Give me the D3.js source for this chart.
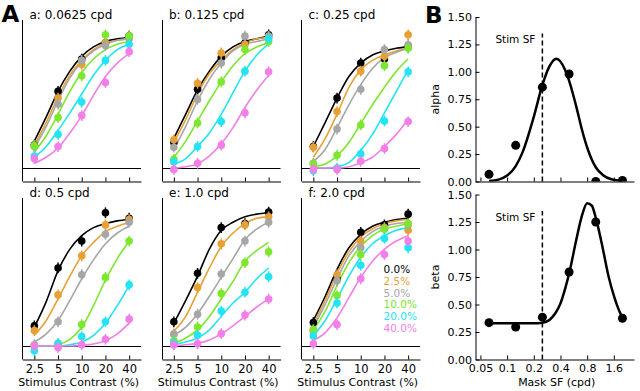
<!DOCTYPE html>
<html>
<head>
<meta charset="utf-8">
<script src="https://cdn.jsdelivr.net/npm/d3@7"></script>
<style>
  body { margin: 0; background: #fff; }
  svg { display: block; font-family: "DejaVu Sans", sans-serif; }
  .spine { stroke: #000; stroke-width: 1; fill: none; }
  .fit { fill: none; }
</style>
</head>
<body>
<svg id="chart" width="640" height="391"></svg>
<script>
// -----------------------------------------------------------------------------
// Data
// -----------------------------------------------------------------------------

var contrasts = [2.5, 5, 10, 20, 40];
var fitContrasts = [2.5, 3.54, 5, 7.07, 10, 14.1, 20, 28.3, 40];
var maskLabels = ["0.0%", "2.5%", "5.0%", "10.0%", "20.0%", "40.0%"];
var panelTitles = ["a: 0.0625 cpd", "b: 0.125 cpd", "c: 0.25 cpd",
                   "d: 0.5 cpd", "e: 1.0 cpd", "f: 2.0 cpd"];

// normalised response, one row per mask contrast (0 .. 40%)
var respSf0625 = [
  [0.17, 0.57, 0.81, 0.93, 0.98],
  [0.165, 0.52, 0.77, 0.93, 0.97],
  [0.16, 0.475, 0.80, 0.91, 0.96],
  [0.165, 0.375, 0.685, 0.99, 0.98],
  [0.09, 0.25, 0.49, 0.80, 0.92],
  [0.07, 0.16, 0.39, 0.635, 0.865]
];
var fitSf0625 = [
  [0.20, 0.38, 0.57, 0.72, 0.83, 0.90, 0.94, 0.96, 0.97],
  [0.17, 0.34, 0.53, 0.69, 0.80, 0.88, 0.93, 0.95, 0.96],
  [0.15, 0.31, 0.50, 0.67, 0.79, 0.87, 0.92, 0.95, 0.96],
  [0.12, 0.24, 0.40, 0.57, 0.71, 0.81, 0.88, 0.92, 0.94],
  [0.08, 0.16, 0.28, 0.41, 0.55, 0.69, 0.80, 0.88, 0.92],
  [0.035, 0.08, 0.15, 0.26, 0.39, 0.54, 0.68, 0.78, 0.85]
];

var respSf125 = [
  [0.19, 0.585, 0.82, 0.93, 0.99],
  [0.21, 0.63, 0.855, 0.92, 0.97],
  [0.155, 0.51, 0.78, 0.98, 0.98],
  [0.065, 0.335, 0.64, 0.88, 0.94],
  [0.045, 0.16, 0.345, 0.72, 0.96],
  [-0.01, 0.035, 0.17, 0.41, 0.715]
];
var fitSf125 = [
  [0.22, 0.40, 0.58, 0.72, 0.83, 0.90, 0.94, 0.96, 0.98],
  [0.19, 0.36, 0.55, 0.70, 0.80, 0.88, 0.93, 0.96, 0.97],
  [0.14, 0.31, 0.50, 0.66, 0.78, 0.87, 0.92, 0.94, 0.96],
  [0.08, 0.20, 0.35, 0.50, 0.64, 0.76, 0.85, 0.90, 0.93],
  [0.03, 0.07, 0.16, 0.26, 0.40, 0.56, 0.72, 0.84, 0.92],
  [0.0, 0.01, 0.03, 0.09, 0.18, 0.30, 0.45, 0.58, 0.69]
];

var respSf25 = [
  [0.16, 0.52, 0.78, 0.81, 0.90],
  [0.155, 0.42, 0.72, 0.83, 0.99],
  [0.035, 0.29, 0.585, 0.88, 0.915],
  [0.03, 0.095, 0.32, 0.76, 0.89],
  [-0.02, 0.0, 0.105, 0.35, 0.715],
  [-0.01, -0.01, 0.05, 0.145, 0.345]
];
var fitSf25 = [
  [0.16, 0.34, 0.52, 0.68, 0.78, 0.84, 0.87, 0.89, 0.90],
  [0.08, 0.22, 0.40, 0.60, 0.73, 0.80, 0.84, 0.87, 0.89],
  [0.05, 0.14, 0.30, 0.47, 0.62, 0.74, 0.82, 0.86, 0.89],
  [0.01, 0.03, 0.09, 0.19, 0.33, 0.47, 0.60, 0.72, 0.81],
  [0.0, 0.0, 0.01, 0.04, 0.13, 0.25, 0.41, 0.57, 0.73],
  [0.0, 0.0, 0.0, 0.01, 0.04, 0.08, 0.16, 0.25, 0.36]
];

var respSf05 = [
  [0.15, 0.58, 0.78, 0.99, 0.95],
  [0.115, 0.38, 0.67, 0.90, 0.94],
  [0.01, 0.18, 0.53, 0.83, 0.92],
  [0.0, 0.015, 0.16, 0.51, 0.78],
  [-0.035, 0.02, 0.07, 0.18, 0.455],
  [0.0, -0.01, 0.01, 0.05, 0.20]
];
var fitSf05 = [
  [0.14, 0.33, 0.56, 0.72, 0.82, 0.88, 0.91, 0.93, 0.94],
  [0.08, 0.19, 0.35, 0.52, 0.67, 0.77, 0.85, 0.89, 0.92],
  [0.03, 0.09, 0.19, 0.34, 0.50, 0.64, 0.76, 0.84, 0.89],
  [0.0, 0.0, 0.01, 0.05, 0.14, 0.30, 0.49, 0.65, 0.78],
  [0.0, 0.0, 0.0, 0.01, 0.03, 0.08, 0.17, 0.30, 0.45],
  [0.0, 0.0, 0.0, 0.0, 0.005, 0.015, 0.04, 0.09, 0.17]
];

var respSf1 = [
  [0.18, 0.54, 0.88, 0.91, 0.995],
  [0.09, 0.435, 0.76, 0.90, 0.96],
  [0.087, 0.236, 0.535, 0.78, 0.92],
  [0.04, 0.142, 0.39, 0.62, 0.70],
  [0.025, 0.08, 0.26, 0.40, 0.515],
  [0.008, 0.017, 0.092, 0.23, 0.35]
];
var fitSf1 = [
  [0.17, 0.34, 0.52, 0.72, 0.86, 0.92, 0.96, 0.98, 0.99],
  [0.11, 0.22, 0.40, 0.58, 0.74, 0.84, 0.91, 0.95, 0.96],
  [0.08, 0.14, 0.24, 0.37, 0.51, 0.65, 0.79, 0.87, 0.92],
  [0.02, 0.06, 0.12, 0.22, 0.35, 0.48, 0.63, 0.71, 0.77],
  [0.01, 0.03, 0.06, 0.12, 0.22, 0.32, 0.40, 0.50, 0.58],
  [0.0, 0.01, 0.02, 0.045, 0.09, 0.15, 0.22, 0.29, 0.35]
];

var respSf2 = [
  [0.175, 0.50, 0.845, 0.90, 0.98],
  [0.12, 0.53, 0.78, 0.88, 0.86],
  [0.11, 0.485, 0.73, 0.87, 0.90],
  [0.12, 0.375, 0.68, 0.87, 0.91],
  [0.075, 0.32, 0.60, 0.80, 0.73],
  [0.017, 0.16, 0.50, 0.68, 0.78]
];
var fitSf2 = [
  [0.19, 0.37, 0.57, 0.73, 0.83, 0.89, 0.92, 0.94, 0.95],
  [0.16, 0.34, 0.54, 0.70, 0.81, 0.87, 0.91, 0.93, 0.94],
  [0.14, 0.31, 0.50, 0.67, 0.78, 0.85, 0.89, 0.91, 0.92],
  [0.12, 0.26, 0.45, 0.62, 0.74, 0.82, 0.87, 0.89, 0.91],
  [0.08, 0.19, 0.35, 0.52, 0.66, 0.76, 0.82, 0.86, 0.88],
  [0.04, 0.10, 0.21, 0.36, 0.51, 0.63, 0.72, 0.78, 0.82]
];

var panelResp = [respSf0625, respSf125, respSf25, respSf05, respSf1, respSf2];
var panelFit = [fitSf0625, fitSf125, fitSf25, fitSf05, fitSf1, fitSf2];
var semResp = 0.04;

// panel B: fit parameters against mask spatial frequency
var stimSF = 0.25;
var maskSF = [0.0625, 0.125, 0.25, 0.5, 1.0, 2.0];
var alphaVals = [0.065, 0.33, 0.86, 0.98, 0.0, 0.01];
var betaVals = [0.335, 0.295, 0.385, 0.795, 1.25, 0.375];
var alphaFitSF = [0.0625, 0.08, 0.1, 0.125, 0.15, 0.2, 0.25, 0.3, 0.36, 0.45, 0.5, 0.6, 0.7, 0.8, 1.0, 1.2, 1.5, 2.0];
var alphaFit = [0.004, 0.017, 0.054, 0.14, 0.27, 0.59, 0.88, 1.05, 1.12, 1.02, 0.92, 0.69, 0.47, 0.31, 0.13, 0.06, 0.02, 0.005];
var betaFitSF = [0.0625, 0.1, 0.15, 0.2, 0.25, 0.3, 0.35, 0.4, 0.45, 0.5, 0.6, 0.7, 0.8, 0.9, 1.0, 1.2, 1.4, 1.6, 1.8, 2.0];
var betaFit = [0.33, 0.33, 0.33, 0.33, 0.335, 0.36, 0.42, 0.51, 0.64, 0.78, 1.08, 1.31, 1.42, 1.40, 1.29, 1.01, 0.75, 0.58, 0.46, 0.38];
var sfTicks = [0.05, 0.1, 0.2, 0.4, 0.8, 1.6];
var paramTicks = [0, 0.25, 0.5, 0.75, 1.0, 1.25, 1.5];

var maskColors = ["#000000", "#e8a035", "#a6a6a6", "#7de62e", "#22e4f2", "#f27fe8"];

// -----------------------------------------------------------------------------
// Helpers
// -----------------------------------------------------------------------------

var svg = d3.select("#chart");

function crisp(v) {
  return Math.round(v - 0.5) + 0.5;
}

function styleAxis(g, size) {
  g.select(".domain").attr("stroke", "#000").attr("stroke-width", 1);
  g.selectAll(".tick line").attr("stroke", "#000").attr("stroke-width", 1);
  g.selectAll(".tick text")
      .attr("fill", "#000")
      .style("font-family", "'DejaVu Sans', sans-serif")
      .style("font-size", size + "px");
}

function drawContrastPanel(k) {
  var col = k % 3;
  var row = Math.floor(k / 3);
  var left = 22.5 + col * 139.5;
  var right = left + 118.5;
  var top = row === 0 ? 20 : 198;
  var bottom = top + 161.5;

  var xScale = d3.scaleLog()
      .domain([2.5 / Math.SQRT2, 40 * Math.SQRT2])
      .range([left, right]);

  var yScale = d3.scaleLinear()
      .domain([-0.1, 1.1])
      .range([bottom, top]);

  var xAxis = d3.axisBottom(xScale)
      .tickValues(contrasts)
      .tickSizeInner(-4)
      .tickSizeOuter(0)
      .tickPadding(5)
      .tickFormat(row === 1 ? d3.format("") : function() { return ""; });

  svg.append("g")
      .attr("transform", "translate(0," + bottom + ")")
      .call(xAxis)
      .call(styleAxis, 11.5);

  svg.append("line")
      .attr("class", "spine")
      .attr("x1", crisp(left)).attr("x2", crisp(left))
      .attr("y1", top).attr("y2", bottom);

  svg.append("line")
      .attr("class", "spine")
      .attr("x1", left).attr("x2", right)
      .attr("y1", crisp(yScale(0))).attr("y2", crisp(yScale(0)));

  var line = d3.line()
      .x(function(d, i) { return xScale(fitContrasts[i]); })
      .y(function(d) { return yScale(d); })
      .curve(d3.curveMonotoneX);

  var resp = panelResp[k];
  var fit = panelFit[k];

  fit.forEach(function(vals, m) {
    svg.append("path")
        .datum(vals)
        .attr("class", "fit")
        .attr("stroke", maskColors[m])
        .attr("stroke-width", 1.6)
        .attr("d", line);
  });

  resp.forEach(function(vals, m) {
    var g = svg.append("g");
    g.selectAll("line")
        .data(vals)
      .enter().append("line")
        .attr("x1", function(d, i) { return xScale(contrasts[i]); })
        .attr("x2", function(d, i) { return xScale(contrasts[i]); })
        .attr("y1", function(d) { return yScale(d - semResp); })
        .attr("y2", function(d) { return yScale(d + semResp); })
        .attr("stroke", maskColors[m])
        .attr("stroke-width", 1.5);
    g.selectAll("circle")
        .data(vals)
      .enter().append("circle")
        .attr("cx", function(d, i) { return xScale(contrasts[i]); })
        .attr("cy", function(d) { return yScale(d); })
        .attr("r", 3.8)
        .attr("fill", maskColors[m]);
  });

  svg.append("text")
      .attr("x", left + 7)
      .attr("y", top - 1)
      .style("font-size", "12px")
      .text(panelTitles[k]);

  if (row === 1) {
    svg.append("text")
        .attr("x", (left + right) / 2 - 3)
        .attr("y", 386)
        .attr("text-anchor", "middle")
        .style("font-size", "11px")
        .text("Stimulus Contrast (%)");
  }

  if (k === 5) {
    svg.selectAll(".legend")
        .data(maskLabels)
      .enter().append("text")
        .attr("x", left + 82)
        .attr("y", function(d, i) { return 273.3 + i * 11.7; })
        .attr("fill", function(d, i) { return maskColors[i]; })
        .style("font-size", "10.5px")
        .text(function(d) { return d; });
  }
}

function drawMaskPanel(top, bottom, vals, fitSF, fitVals, label, id, showLabels) {
  var left = 475.5;
  var right = 634;

  var xScale = d3.scaleLog()
      .domain([0.044, 2.7])
      .range([left, right]);

  var yScale = d3.scaleLinear()
      .domain([0, 1.5])
      .range([bottom, top]);

  svg.append("clipPath")
      .attr("id", id)
    .append("rect")
      .attr("x", left).attr("y", top)
      .attr("width", right - left).attr("height", bottom - top);

  svg.append("line")
      .attr("x1", xScale(stimSF)).attr("x2", xScale(stimSF))
      .attr("y1", yScale(0)).attr("y2", yScale(1.35))
      .attr("stroke", "#000")
      .attr("stroke-width", 1.5)
      .attr("stroke-dasharray", "5,3");

  svg.append("text")
      .attr("x", xScale(stimSF) - 7)
      .attr("y", yScale(1.26))
      .attr("text-anchor", "end")
      .style("font-size", "10.5px")
      .text("Stim SF");

  var plot = svg.append("g").attr("clip-path", "url(#" + id + ")");

  var line = d3.line()
      .x(function(d, i) { return xScale(fitSF[i]); })
      .y(function(d) { return yScale(d); })
      .curve(d3.curveMonotoneX);

  plot.append("path")
      .datum(fitVals)
      .attr("class", "fit")
      .attr("stroke", "#000")
      .attr("stroke-width", 2.5)
      .attr("d", line);

  plot.selectAll("circle")
      .data(vals)
    .enter().append("circle")
      .attr("cx", function(d, i) { return xScale(maskSF[i]); })
      .attr("cy", function(d) { return yScale(d); })
      .attr("r", 4.5)
      .attr("fill", "#000");

  svg.append("g")
      .attr("transform", "translate(" + left + ",0)")
      .call(d3.axisLeft(yScale)
          .tickValues(paramTicks)
          .tickSizeInner(-4)
          .tickSizeOuter(0)
          .tickPadding(3.5)
          .tickFormat(d3.format(".2f")))
      .call(styleAxis, 11);

  svg.append("g")
      .attr("transform", "translate(0," + bottom + ")")
      .call(d3.axisBottom(xScale)
          .tickValues(sfTicks)
          .tickSizeInner(-4)
          .tickSizeOuter(0)
          .tickPadding(5)
          .tickFormat(showLabels ? d3.format("") : function() { return ""; }))
      .call(styleAxis, 11);

  svg.append("text")
      .attr("transform", "translate(439," + (top + bottom) / 2 + ") rotate(-90)")
      .attr("text-anchor", "middle")
      .style("font-size", "11px")
      .text(label);

  if (showLabels) {
    svg.append("text")
        .attr("x", (left + right) / 2 + 2)
        .attr("y", 386)
        .attr("text-anchor", "middle")
        .style("font-size", "11px")
        .text("Mask SF (cpd)");
  }
}

// -----------------------------------------------------------------------------
// Draw
// -----------------------------------------------------------------------------

for (var k = 0; k < 6; k++) {
  drawContrastPanel(k);
}

drawMaskPanel(17, 181.5, alphaVals, alphaFitSF, alphaFit, "alpha", "clipAlpha", false);
drawMaskPanel(194.5, 359.5, betaVals, betaFitSF, betaFit, "beta", "clipBeta", true);

svg.append("text")
    .attr("x", 1.5).attr("y", 21.5)
    .style("font-size", "23px")
    .style("font-weight", "bold")
    .text("A");

svg.append("text")
    .attr("x", 425).attr("y", 23)
    .style("font-size", "23px")
    .style("font-weight", "bold")
    .text("B");
</script>
</body>
</html>
